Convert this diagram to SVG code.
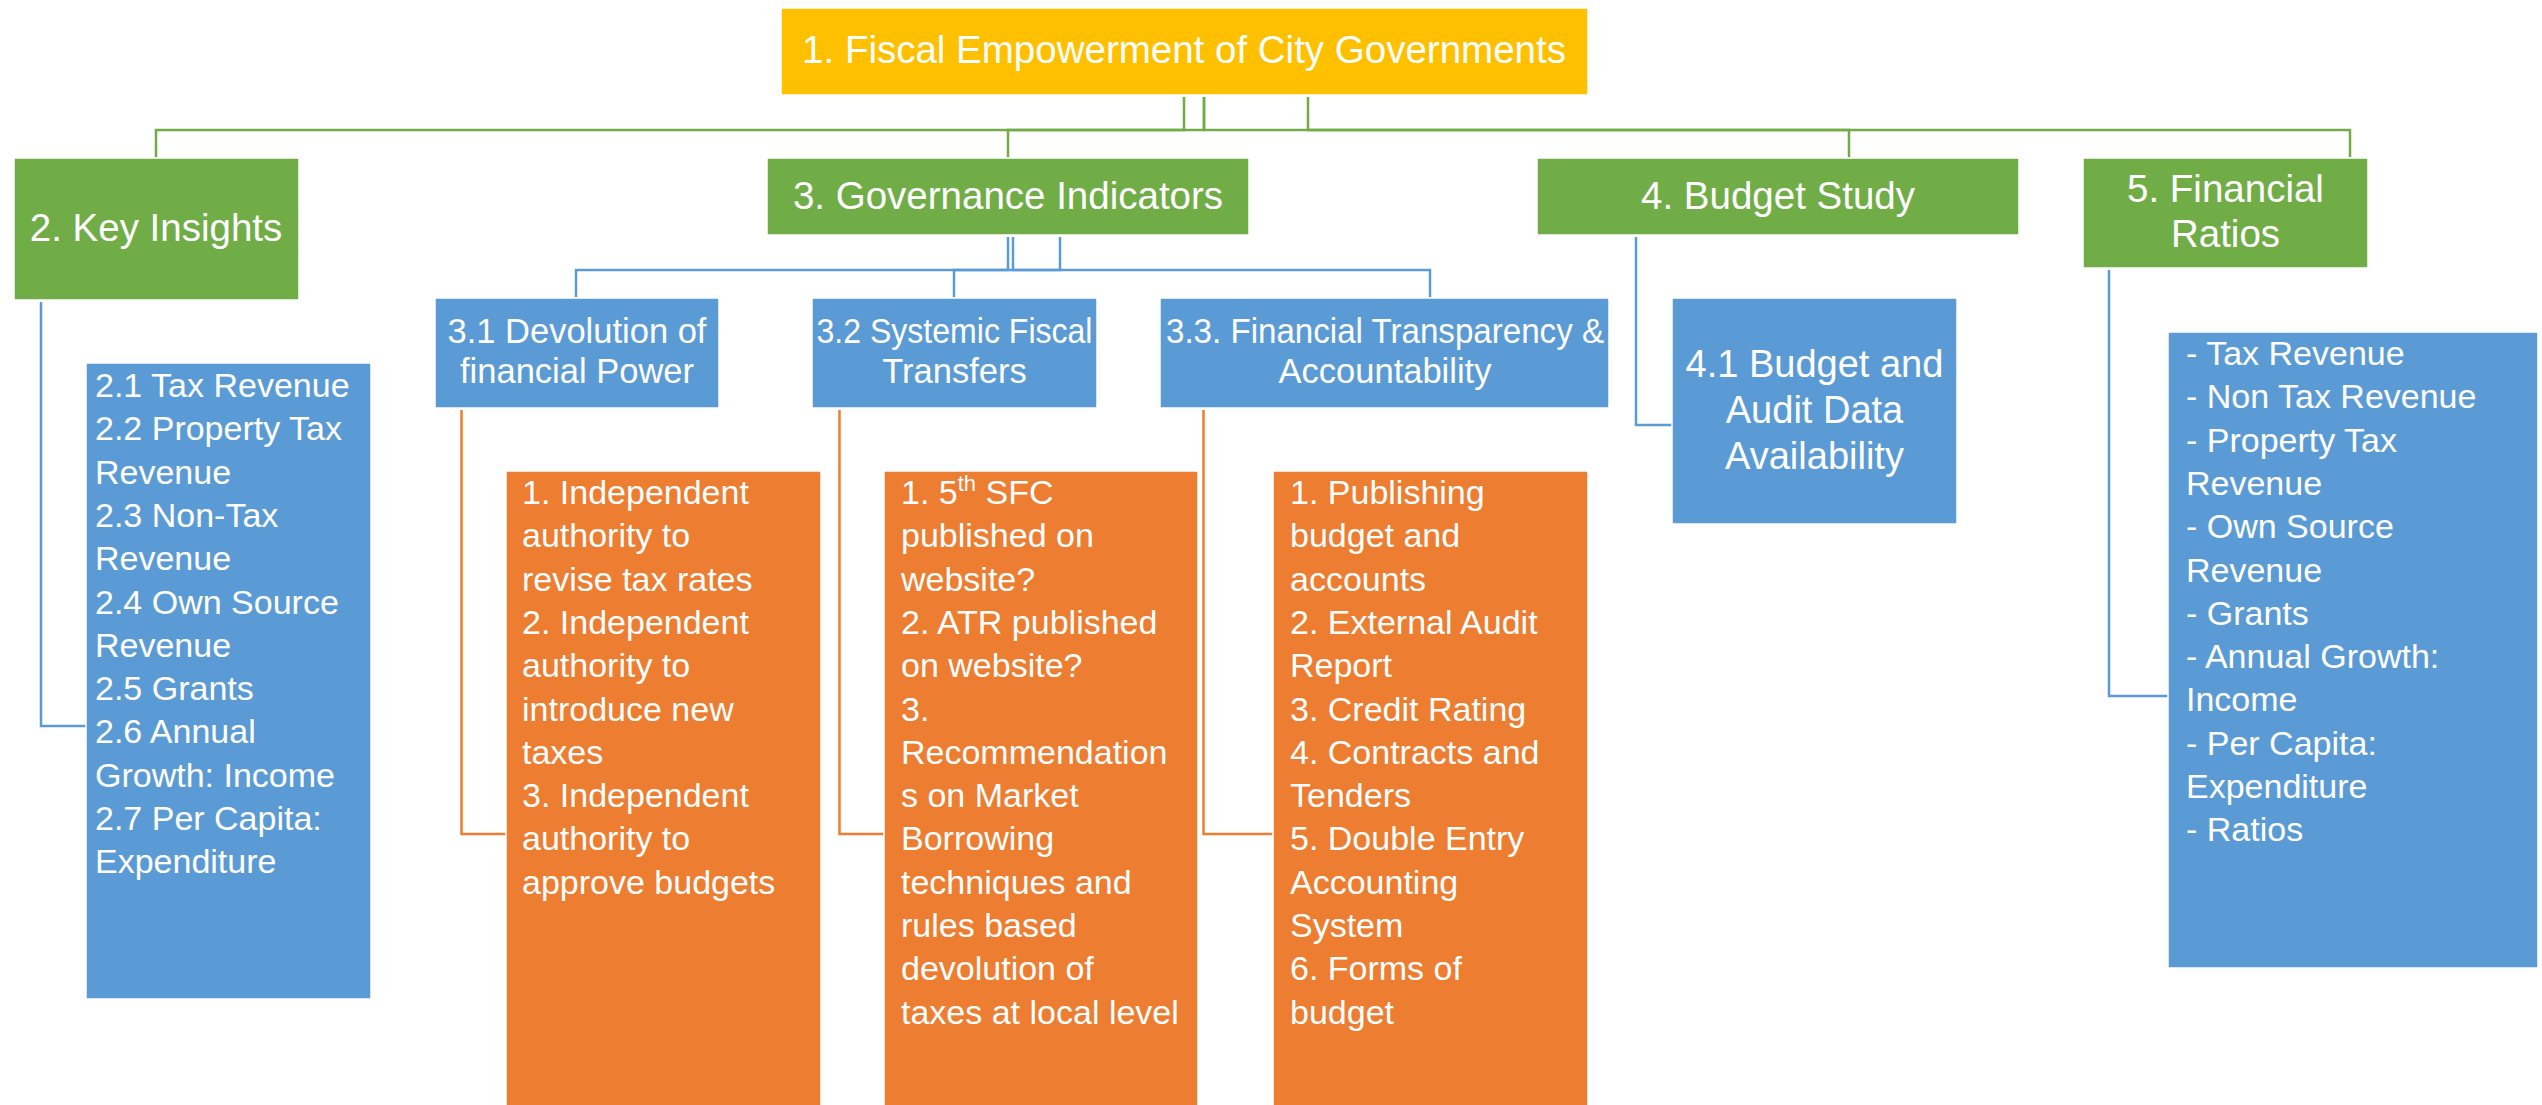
<svg xmlns="http://www.w3.org/2000/svg" width="2542" height="1105" viewBox="0 0 2542 1105">
<style>
text{font-family:"Liberation Sans",Arial,sans-serif;fill:#fff}
.t1{font-size:38.5px;text-anchor:middle}
.t2{font-size:34.5px;text-anchor:middle}
.t3{font-size:34px}
.t4{font-size:38px;text-anchor:middle}
.y{fill:#FFC000;stroke:#fff;stroke-width:1.5}
.g{fill:#70AD47;stroke:#fff;stroke-width:1.5}
.b{fill:#5B9BD5;stroke:#fff;stroke-width:1.5}
.o{fill:#ED7D31;stroke:#fff;stroke-width:1.5}
.cg{fill:none;stroke:#70AD47;stroke-width:2.5}
.cb{fill:none;stroke:#5B9BD5;stroke-width:2.5}
.co{fill:none;stroke:#ED7D31;stroke-width:2.5}
</style>
<rect width="2542" height="1105" fill="#fff"/>
<g id="connectors">
<path class="cg" d="M1184,97 V130 H156 V157"/>
<path class="cg" d="M1204,97 V130 H1008 V157"/>
<path class="cg" d="M1204,97 V130 H1849 V157"/>
<path class="cg" d="M1308,97 V130 H2350 V157"/>
<path class="cb" d="M1008,237 V270 H576 V297"/>
<path class="cb" d="M1060,237 V270 H954 V297"/>
<path class="cb" d="M1013,237 V270 H1430 V297"/>
<path class="cb" d="M41,302 V726 H86"/>
<path class="cb" d="M1636,237 V425 H1672"/>
<path class="cb" d="M2109,270 V696 H2168"/>
<path class="co" d="M461.5,410 V834 H506"/>
<path class="co" d="M839.5,410 V834 H884"/>
<path class="co" d="M1203.5,410 V834 H1273"/>
</g>
<g id="n1">
<rect class="y" x="781" y="8" width="807" height="87"/>
<text class="t1" x="1184" y="63">1. Fiscal Empowerment of City Governments</text>
</g>
<g id="n2">
<rect class="g" x="14" y="158" width="285" height="142"/>
<text class="t1" x="156" y="241">2. Key Insights</text>
</g>
<g id="n3">
<rect class="g" x="767" y="158" width="482" height="77"/>
<text class="t1" x="1008" y="209">3. Governance Indicators</text>
</g>
<g id="n4">
<rect class="g" x="1537" y="158" width="482" height="77"/>
<text class="t1" x="1778" y="209">4. Budget Study</text>
</g>
<g id="n5">
<rect class="g" x="2083" y="158" width="285" height="110"/>
<text class="t1" x="2225.5" y="202">5. Financial</text>
<text class="t1" x="2225.5" y="247">Ratios</text>
</g>
<g id="n2-1">
<rect class="b" x="86" y="363" width="285" height="636"/>
<text class="t3" x="95" y="397">
<tspan x="95" dy="0">2.1 Tax Revenue</tspan>
<tspan x="95" dy="43.3">2.2 Property Tax</tspan>
<tspan x="95" dy="43.3">Revenue</tspan>
<tspan x="95" dy="43.3">2.3 Non-Tax</tspan>
<tspan x="95" dy="43.3">Revenue</tspan>
<tspan x="95" dy="43.3">2.4 Own Source</tspan>
<tspan x="95" dy="43.3">Revenue</tspan>
<tspan x="95" dy="43.3">2.5 Grants</tspan>
<tspan x="95" dy="43.3">2.6 Annual</tspan>
<tspan x="95" dy="43.3">Growth: Income</tspan>
<tspan x="95" dy="43.3">2.7 Per Capita:</tspan>
<tspan x="95" dy="43.3">Expenditure</tspan>
</text>
</g>
<g id="n3-1">
<rect class="b" x="435" y="298" width="284" height="110"/>
<text class="t2" x="577" y="343">3.1 Devolution of</text>
<text class="t2" x="577" y="383">financial Power</text>
</g>
<g id="n3-2">
<rect class="b" x="812" y="298" width="285" height="110"/>
<text class="t2" x="954.5" y="343" textLength="276" lengthAdjust="spacingAndGlyphs">3.2 Systemic Fiscal</text>
<text class="t2" x="954.5" y="383">Transfers</text>
</g>
<g id="n3-3">
<rect class="b" x="1160" y="298" width="449" height="110"/>
<text class="t2" x="1385" y="343" textLength="438" lengthAdjust="spacingAndGlyphs">3.3. Financial Transparency &amp;</text>
<text class="t2" x="1385" y="383">Accountability</text>
</g>
<g id="n3-1-1">
<rect class="o" x="506" y="471" width="315" height="640"/>
<text class="t3" x="522" y="504">
<tspan x="522" dy="0">1. Independent</tspan>
<tspan x="522" dy="43.3">authority to</tspan>
<tspan x="522" dy="43.3">revise tax rates</tspan>
<tspan x="522" dy="43.3">2. Independent</tspan>
<tspan x="522" dy="43.3">authority to</tspan>
<tspan x="522" dy="43.3">introduce new</tspan>
<tspan x="522" dy="43.3">taxes</tspan>
<tspan x="522" dy="43.3">3. Independent</tspan>
<tspan x="522" dy="43.3">authority to</tspan>
<tspan x="522" dy="43.3">approve budgets</tspan>
</text>
</g>
<g id="n3-2-1">
<rect class="o" x="884" y="471" width="314" height="640"/>
<text class="t3" x="901" y="504">
<tspan x="901" dy="0">1. 5</tspan><tspan dy="-13" font-size="22px">th</tspan><tspan dy="13"> SFC</tspan>
<tspan x="901" dy="43.3">published on</tspan>
<tspan x="901" dy="43.3">website?</tspan>
<tspan x="901" dy="43.3">2. ATR published</tspan>
<tspan x="901" dy="43.3">on website?</tspan>
<tspan x="901" dy="43.3">3.</tspan>
<tspan x="901" dy="43.3">Recommendation</tspan>
<tspan x="901" dy="43.3">s on Market</tspan>
<tspan x="901" dy="43.3">Borrowing</tspan>
<tspan x="901" dy="43.3">techniques and</tspan>
<tspan x="901" dy="43.3">rules based</tspan>
<tspan x="901" dy="43.3">devolution of</tspan>
<tspan x="901" dy="43.3">taxes at local level</tspan>
</text>
</g>
<g id="n3-3-1">
<rect class="o" x="1273" y="471" width="315" height="640"/>
<text class="t3" x="1290" y="504">
<tspan x="1290" dy="0">1. Publishing</tspan>
<tspan x="1290" dy="43.3">budget and</tspan>
<tspan x="1290" dy="43.3">accounts</tspan>
<tspan x="1290" dy="43.3">2. External Audit</tspan>
<tspan x="1290" dy="43.3">Report</tspan>
<tspan x="1290" dy="43.3">3. Credit Rating</tspan>
<tspan x="1290" dy="43.3">4. Contracts and</tspan>
<tspan x="1290" dy="43.3">Tenders</tspan>
<tspan x="1290" dy="43.3">5. Double Entry</tspan>
<tspan x="1290" dy="43.3">Accounting</tspan>
<tspan x="1290" dy="43.3">System</tspan>
<tspan x="1290" dy="43.3">6. Forms of</tspan>
<tspan x="1290" dy="43.3">budget</tspan>
</text>
</g>
<g id="n4-1">
<rect class="b" x="1672" y="298" width="285" height="226"/>
<text class="t4" x="1814.5" y="377">4.1 Budget and</text>
<text class="t4" x="1814.5" y="423">Audit Data</text>
<text class="t4" x="1814.5" y="469">Availability</text>
</g>
<g id="n5-1">
<rect class="b" x="2168" y="332" width="370" height="636"/>
<text class="t3" x="2186" y="365">
<tspan x="2186" dy="0">- Tax Revenue</tspan>
<tspan x="2186" dy="43.3">- Non Tax Revenue</tspan>
<tspan x="2186" dy="43.3">- Property Tax</tspan>
<tspan x="2186" dy="43.3">Revenue</tspan>
<tspan x="2186" dy="43.3">- Own Source</tspan>
<tspan x="2186" dy="43.3">Revenue</tspan>
<tspan x="2186" dy="43.3">- Grants</tspan>
<tspan x="2186" dy="43.3">- Annual Growth:</tspan>
<tspan x="2186" dy="43.3">Income</tspan>
<tspan x="2186" dy="43.3">- Per Capita:</tspan>
<tspan x="2186" dy="43.3">Expenditure</tspan>
<tspan x="2186" dy="43.3">- Ratios</tspan>
</text>
</g>
</svg>
